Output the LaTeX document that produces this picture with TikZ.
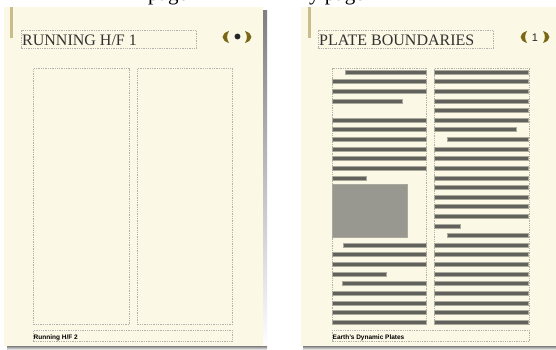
\documentclass[tikz,border=0pt]{standalone}
\usepackage{fontspec}
\setmainfont{Liberation Serif}
\setsansfont{Liberation Sans}
\usetikzlibrary{positioning}

\definecolor{paper}{RGB}{251,248,229}
\definecolor{shade}{RGB}{128,128,126}
\definecolor{goldbar}{RGB}{201,189,140}
\definecolor{olive}{RGB}{122,104,20}
\definecolor{barfill}{RGB}{98,98,92}
\definecolor{baredge}{RGB}{170,169,155}
\definecolor{figfill}{RGB}{152,152,144}
\definecolor{guide}{RGB}{178,178,172}
\definecolor{headtext}{RGB}{50,50,48}

\begin{document}
\begin{tikzpicture}[x=1pt, y=-1pt,
page/.style={fill=paper, anchor=north west, inner sep=0pt},
frame/.style={draw=guide, dash pattern=on 1.3pt off 1pt, line width=0.7pt, anchor=north west, inner sep=0pt},
headline/.style={anchor=base west, inner sep=0pt, text=headtext, font=\fontsize{16}{16}\selectfont},
footline/.style={anchor=base west, inner sep=0pt, font=\sffamily\bfseries\fontsize{6.5}{7}\selectfont},
txtbar/.style={fill=barfill, draw=baredge, line width=0.5pt}
]
\useasboundingbox (0,0) rectangle (556,350);
\clip (0,0) rectangle (556,350);
\fill[white] (0,0) rectangle (556,350);

% captions above, cut off by the top edge
\node[anchor=base west, inner sep=0pt, font=\fontsize{21}{21}\selectfont] (lcap) at (148,0.5) {page};
\node[anchor=base west, inner sep=0pt, font=\fontsize{21}{21}\selectfont] (rcap) at (309,0.5) {y page};

% page shadows
\fill[shade] (263,11) rectangle (267,350);
\fill[shade] (7,346) rectangle (267,350);
\fill[shade] (303,346) rectangle (560,350);

% the two pages
\node[page, minimum width=259pt, minimum height=339pt] (leftpage) at (4,7) {};
\node[page, minimum width=260pt, minimum height=339pt] (rightpage) at (301,7) {};
\fill[goldbar] (9.5,7) rectangle (13,38);
\fill[goldbar] (307.5,7) rectangle (311,38);

% running heads
\node[frame, minimum width=175pt, minimum height=18pt] (lhead) at (21,30) {};
\node[frame, minimum width=175pt, minimum height=18pt] (rhead) at (318,30) {};
\node[headline] (ltitle) at (22,46) {RUNNING H/F 1};
\node[headline] (rtitle) at (319,46) {PLATE BOUNDARIES};

% page numbers
\foreach \cx in {237,535}{
  \fill[olive] (\cx-8,31) .. controls (\cx-16.5,33.5) and (\cx-16.5,40.5) .. (\cx-8,43)
    .. controls (\cx-10.5,39.5) and (\cx-10.5,34.5) .. (\cx-8,31);
  \fill[olive] (\cx+8,31) .. controls (\cx+16.5,33.5) and (\cx+16.5,40.5) .. (\cx+8,43)
    .. controls (\cx+10.5,39.5) and (\cx+10.5,34.5) .. (\cx+8,31);
}
\node[circle, fill=black!85, inner sep=2.1pt] (ldot) at (237.5,36.5) {};
\node[inner sep=0pt, font=\sffamily\fontsize{11}{11}\selectfont, text=black!85] (rnum) at (535,37.5) {1};

% column frames
\node[frame, minimum width=96pt, minimum height=256pt] (lcolA) at (33,68) {};
\node[frame, minimum width=95pt, minimum height=256pt] (lcolB) at (137,68) {};
\node[frame, minimum width=94pt, minimum height=256pt] (rcolA) at (332,68) {};
\node[frame, minimum width=95pt, minimum height=256pt] (rcolB) at (434,68) {};

% text lines, first column
\foreach \i/\xa/\xb in {0/345/426, 1/332.5/426, 2/332.5/426, 3/332.5/402,
  5/332.5/426, 6/332.5/426, 7/332.5/426, 8/332.5/426, 9/332.5/426, 10/332.5/426,
  11/332.5/366, 18/343/426, 19/332.5/426, 20/332.5/426, 21/332.5/386,
  22/342/426, 23/332.5/426, 24/332.5/426, 25/332.5/426, 26/332.5/426}
  \draw[txtbar] (\xa,{72+9.615*\i-2}) rectangle (\xb,{72+9.615*\i+2});

% text lines, second column
\foreach \i/\xa/\xb in {0/434.5/528.5, 1/434.5/528.5, 2/434.5/528.5, 3/434.5/528.5,
  4/434.5/528.5, 5/434.5/528.5, 6/434.5/516, 7/447/528.5, 8/434.5/528.5,
  9/434.5/528.5, 10/434.5/528.5, 11/434.5/528.5, 12/434.5/528.5, 13/434.5/528.5,
  14/434.5/528.5, 15/434.5/528.5, 16/434.5/460, 17/447/528.5, 18/434.5/528.5,
  19/434.5/528.5, 20/434.5/528.5, 21/434.5/528.5, 22/434.5/528.5, 23/434.5/528.5,
  24/434.5/528.5, 25/434.5/528.5, 26/434.5/528.5}
  \draw[txtbar] (\xa,{72+9.615*\i-2}) rectangle (\xb,{72+9.615*\i+2});

% picture frame in first column
\node[fill=figfill, draw=baredge, line width=0.5pt, anchor=north west, inner sep=0pt,
  minimum width=75pt, minimum height=53pt] (figbox) at (332,184) {};

% running feet
\node[frame, minimum width=199pt, minimum height=11pt] (lfoot) at (33,330) {};
\node[frame, minimum width=197pt, minimum height=11pt] (rfoot) at (332,330) {};
\node[footline] (lfoottext) at (33.5,339) {Running H/F 2};
\node[footline] (rfoottext) at (332.5,339) {Earth's Dynamic Plates};
\end{tikzpicture}
\end{document}
